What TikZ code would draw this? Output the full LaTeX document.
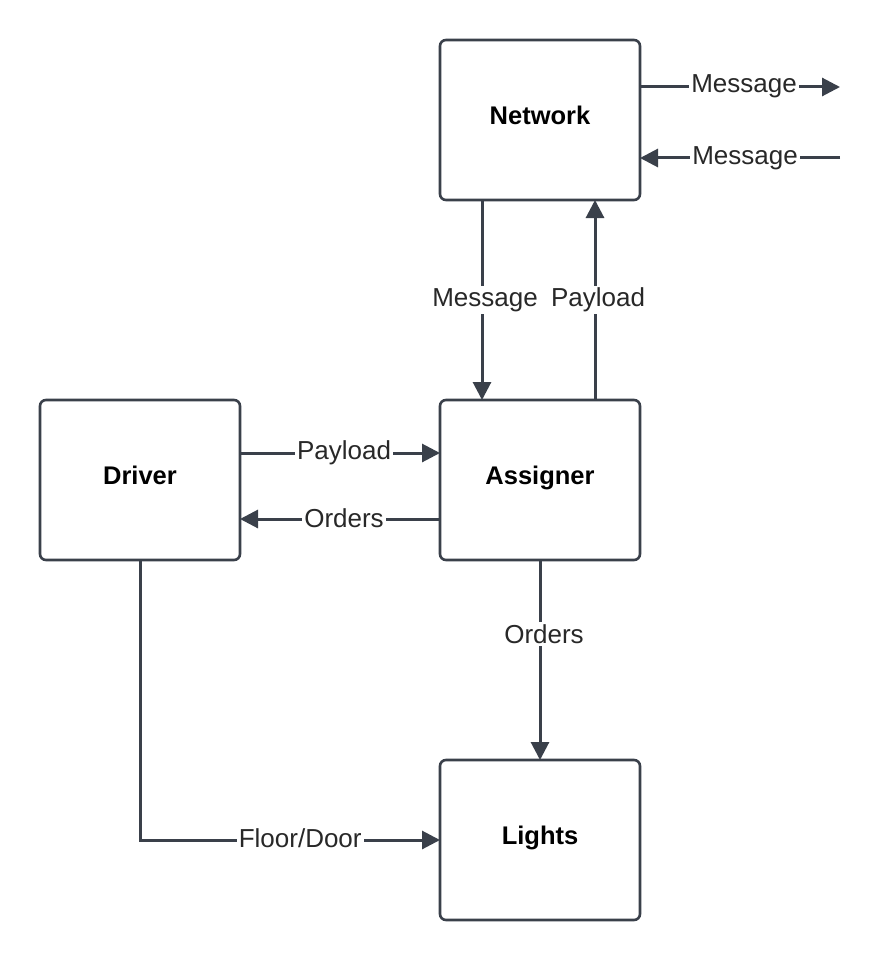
\documentclass[tikz,border=0pt]{standalone}
\usepackage{fontspec}
\setmainfont{Liberation Sans}
\usetikzlibrary{arrows.meta}
\definecolor{lc}{RGB}{58,64,74}
\definecolor{tc}{RGB}{40,40,40}
\begin{document}
\begin{tikzpicture}[x=1pt,y=-1pt,
  box/.style={draw=lc, line width=2.6pt, rounded corners=6pt, minimum width=200pt, minimum height=160pt,
    font=\fontsize{25.5}{30}\selectfont\bfseries, text=black, anchor=north west, outer sep=0pt, text depth=10pt},
  conn/.style={draw=lc, line width=3pt, -{Triangle[length=18pt,width=18pt]}},
  lab/.style={fill=white, text=tc, font=\fontsize{26}{30}\selectfont, inner sep=2pt}]
\useasboundingbox[fill=white] (0,0) rectangle (880,960);

\node[box] (net) at (440,40) {Network};
\node[box] (drv) at (40,400) {Driver};
\node[box] (asg) at (440,400) {Assigner};
\node[box] (lts) at (440,760) {Lights};

\coordinate (o1) at (840,87);
\coordinate (i1) at (840,158);

\draw[conn] (net.east |- o1) -- node[lab, pos=0.52, yshift=1pt] {Message} (o1);
\draw[conn] (i1) -- node[lab, pos=0.475] {Message} (net.east |- i1);

\draw[conn] ([xshift=-58pt]net.south) -- node[lab, pos=0.5, xshift=3pt] {Message} ([xshift=-58pt]asg.north);
\draw[conn] ([xshift=55pt]asg.north) -- node[lab, pos=0.5, xshift=3pt] {Payload} ([xshift=55pt]net.south);

\draw[conn] ([yshift=27pt]drv.east) -- node[lab, pos=0.52] {Payload} ([yshift=27pt]asg.west);
\draw[conn] ([yshift=-39pt]asg.west) -- node[lab, pos=0.48, yshift=1pt] {Orders} ([yshift=-39pt]drv.east);

\draw[conn] (asg.south) -- node[lab, pos=0.37, xshift=4pt] {Orders} (lts.north);
\draw[conn] (drv.south) |- node[lab, pos=0.767, yshift=2pt] {Floor/Door} (lts.west);
\end{tikzpicture}
\end{document}
